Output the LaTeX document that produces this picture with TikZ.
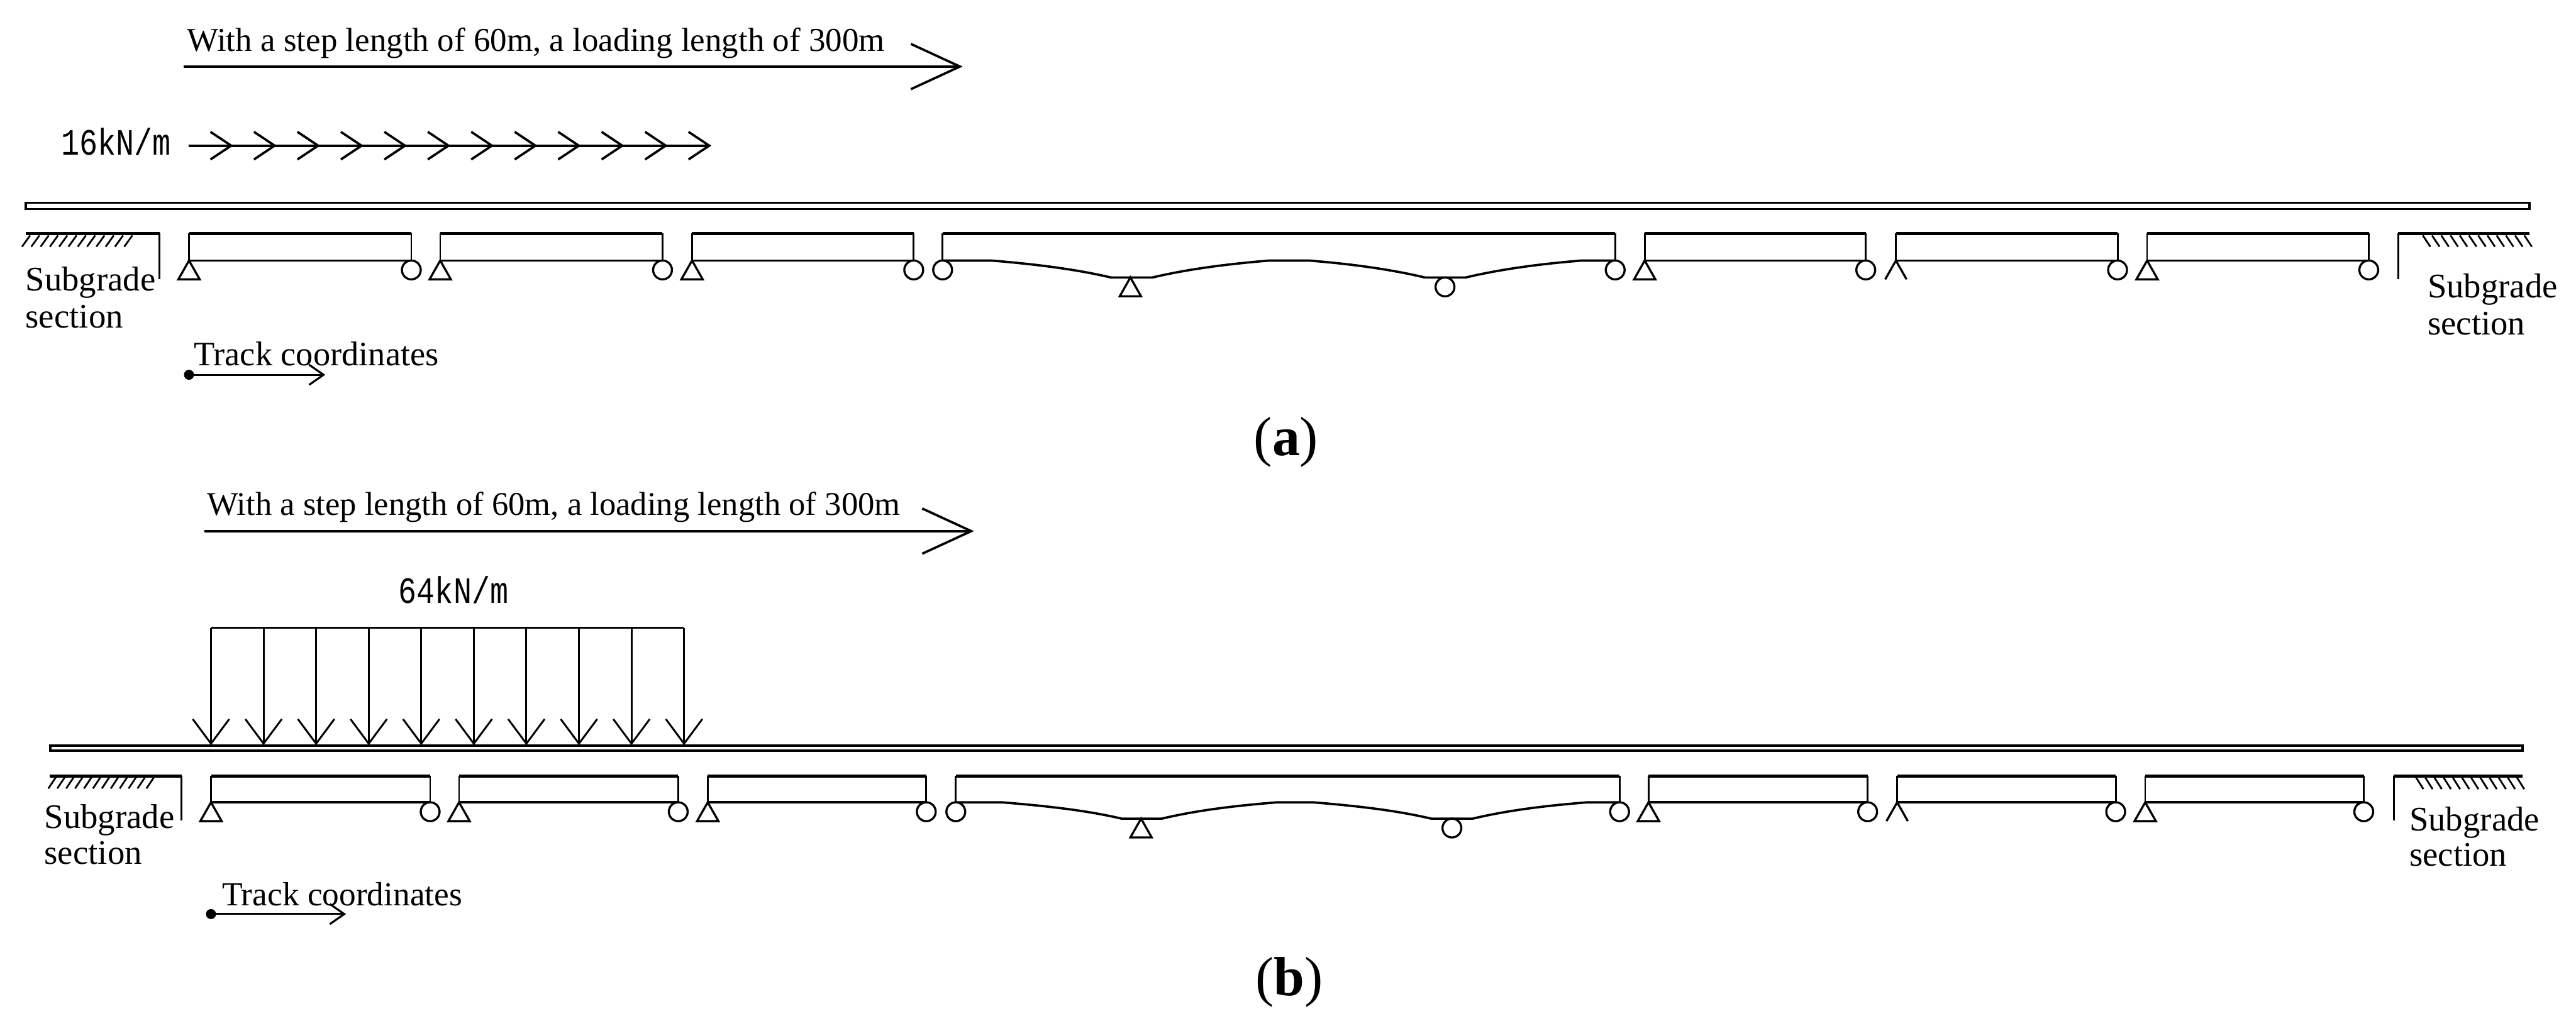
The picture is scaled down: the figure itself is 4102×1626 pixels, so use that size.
\documentclass[tikz,border=0pt]{standalone}
\usepackage{fontspec}
\setmainfont{Liberation Serif}
\setmonofont{Liberation Mono}
\usetikzlibrary{arrows.meta}
\newcommand{\textsizept}{15.1}
\newcommand{\tracksizept}{15.5}
\newcommand{\loadsizept}{13.8}

\tikzset{
  deckline/.style={line width=1.3pt},
  soffitline/.style={line width=1.05pt},
  webline/.style={line width=0.8pt},
  railline/.style={line width=1.05pt},
  hatchline/.style={line width=0.8pt},
  supportline/.style={line width=0.95pt},
  stepbase/.style={anchor=base west,inner sep=0pt,font=\fontsize{\textsizept}{17}\selectfont},
  tracktext/.style={anchor=base west,inner sep=0pt,font=\fontsize{\tracksizept}{18}\selectfont},
  subgradetext/.style={anchor=base west,inner sep=0pt,font=\fontsize{15.6}{18}\selectfont},
  loadtext/.style={anchor=base west,inner sep=0pt,yscale=1.22,transform shape,font=\ttfamily\fontsize{\loadsizept}{16}\selectfont},
  captiontext/.style={inner sep=0pt,font=\fontsize{25}{29}\selectfont},
  longarrow/.style={-{Straight Barb[length=0.78cm,width=0.72cm]},line width=1.05pt},
  chainarrow/.style={-{Straight Barb[length=0.33cm,width=0.44cm]},line width=1.05pt},
  dropbar/.style={-{Straight Barb[length=0.39cm,width=0.58cm]},line width=0.85pt},
  trackarrow/.style={-{Straight Barb[length=0.23cm,width=0.32cm]},line width=0.9pt},
}

% one simply supported span: left, right, deck y, soffit y
\newcommand{\spanbeam}[4]{
  \draw[deckline] (#1,#3) -- (#2,#3);
  \draw[webline] (#1,#3) -- (#1,#4);
  \draw[webline] (#2,#3) -- (#2,#4);
  \draw[soffitline] (#1,#4) -- (#2,#4);
}
\newcommand{\hingesupport}[2]{\draw[supportline,fill=white] (#1,#2) -- ++(-17,30) -- ++(34,0) -- cycle;}
\newcommand{\rollersupport}[2]{\draw[supportline,fill=white] (#1,#2+15) circle (15);}
\newcommand{\opensupport}[2]{\draw[supportline] (#1-17,#2+30) -- (#1,#2) -- (#1+17,#2+30);}

\begin{document}
\begin{tikzpicture}[x=0.01cm,y=-0.01cm]
\useasboundingbox (0,0) rectangle (4102,1626);

% panel a
\node[stepbase] (stepA) at (297,82) {With a step length of 60m, a loading length of 300m};
\coordinate (stepstartA) at (292,106);
\coordinate (stependA) at (1533,106);
\draw[longarrow] (stepstartA) -- (stependA);

\node[loadtext] (loadA) at (97,247) {16kN/m};
\coordinate (loadstartA) at (300,232);
\foreach \i in {0,...,11}{
  \coordinate (loadA\i) at (371.5+\i*69.2,232);
  \draw[chainarrow] (loadstartA) -- (loadA\i);
}

\draw[railline] (41,323) rectangle (4028,333);

\draw[deckline] (41,372) -- (254,372);
\draw[webline] (254,372) -- (254,445);
\foreach \i in {0,...,11}
  \draw[hatchline] (48+\i*14.8,375) -- ++(-13,18);
\node[subgradetext] (subgradeA1) at (40,463) {Subgrade};
\node[subgradetext] (subgradeA2) at (40,522) {section};

\spanbeam{301}{655}{372}{415}
\spanbeam{701}{1055}{372}{415}
\spanbeam{1102}{1455}{372}{415}
\hingesupport{301}{415}
\rollersupport{655}{415}
\hingesupport{701}{415}
\rollersupport{1055}{415}
\hingesupport{1102}{415}
\rollersupport{1455}{415}

\draw[deckline] (1501,372) -- (2572,372);
\draw[webline] (1501,372) -- (1501,415);
\draw[webline] (2572,372) -- (2572,415);
\draw[soffitline] (1501,415) -- (1578,415) .. controls +(62,5) and +(-59,-14) .. (1769,442) -- (1835,442)
  .. controls +(59,-14) and +(-62,5) .. (2022,415) -- (2084,415) .. controls +(62,5) and +(-59,-14) .. (2269,442)
  -- (2334,442) .. controls +(59,-14) and +(-62,5) .. (2519,415) -- (2572,415);
\rollersupport{1501}{415}
\hingesupport{1800}{442}
\rollersupport{2301}{442}
\rollersupport{2572}{415}

\spanbeam{2619}{2971}{372}{415}
\spanbeam{3019}{3372}{372}{415}
\spanbeam{3419}{3772}{372}{415}
\hingesupport{2619}{415}
\rollersupport{2971}{415}
\opensupport{3019}{415}
\rollersupport{3372}{415}
\hingesupport{3419}{415}
\rollersupport{3772}{415}

\draw[deckline] (3819,372) -- (4028,372);
\draw[webline] (3819,372) -- (3819,445);
\foreach \i in {0,...,11}
  \draw[hatchline] (3858+\i*14.7,375) -- ++(12,18);
\node[subgradetext] (subgradeA3) at (3865,474) {Subgrade};
\node[subgradetext] (subgradeA4) at (3865,533) {section};

\node[tracktext] (trackA) at (308,582) {Track coordinates};
\coordinate (trackstartA) at (301,597);
\coordinate (trackendA) at (518,597);
\fill (trackstartA) circle (8);
\draw[trackarrow] (trackstartA) -- (trackendA);

\node[captiontext] (captionA) at (2048,704) {(\textbf{a})};

% panel b
\node[stepbase,font=\fontsize{15}{17}\selectfont] (stepB) at (329,821) {With a step length of 60m, a loading length of 300m};
\coordinate (stepstartB) at (325,846);
\coordinate (stependB) at (1551,846);
\draw[longarrow] (stepstartB) -- (stependB);

\node[loadtext] (loadB) at (634,961) {64kN/m};
\draw[webline] (336,1000) -- (1089,1000);
\foreach \i in {0,...,9}{
  \coordinate (dropstartB\i) at (336+\i*83.7,1000);
  \coordinate (dropendB\i) at (336+\i*83.7,1187);
  \draw[dropbar] (dropstartB\i) -- (dropendB\i);
}

\draw[railline] (80,1188) rectangle (4017,1196);

\draw[deckline] (79,1236) -- (289,1236);
\draw[webline] (289,1236) -- (289,1307);
\foreach \i in {0,...,11}
  \draw[hatchline] (89+\i*14.2,1238) -- ++(-12,18);
\node[subgradetext] (subgradeB1) at (70,1319) {Subgrade};
\node[subgradetext] (subgradeB2) at (70,1376) {section};

\spanbeam{336}{685}{1236}{1278}
\spanbeam{731}{1080}{1236}{1278}
\spanbeam{1127}{1475}{1236}{1278}
\hingesupport{336}{1278}
\rollersupport{685}{1278}
\hingesupport{731}{1278}
\rollersupport{1080}{1278}
\hingesupport{1127}{1278}
\rollersupport{1475}{1278}

\draw[deckline] (1522,1236) -- (2579,1236);
\draw[webline] (1522,1236) -- (1522,1278);
\draw[webline] (2579,1236) -- (2579,1278);
\draw[soffitline] (1522,1278) -- (1595,1278) .. controls +(62,5) and +(-59,-14) .. (1786,1304) -- (1850,1304)
  .. controls +(59,-14) and +(-62,5) .. (2034,1278) -- (2090,1278) .. controls +(62,5) and +(-59,-14) .. (2279,1304)
  -- (2345,1304) .. controls +(59,-14) and +(-62,5) .. (2528,1278) -- (2579,1278);
\rollersupport{1522}{1278}
\hingesupport{1817}{1304}
\rollersupport{2312}{1304}
\rollersupport{2579}{1278}

\spanbeam{2625}{2974}{1236}{1278}
\spanbeam{3021}{3369}{1236}{1278}
\spanbeam{3416}{3764}{1236}{1278}
\hingesupport{2625}{1278}
\rollersupport{2974}{1278}
\opensupport{3021}{1278}
\rollersupport{3369}{1278}
\hingesupport{3416}{1278}
\rollersupport{3764}{1278}

\draw[deckline] (3812,1236) -- (4017,1236);
\draw[webline] (3812,1236) -- (3812,1307);
\foreach \i in {0,...,11}
  \draw[hatchline] (3847+\i*14.6,1238) -- ++(12,19);
\node[subgradetext] (subgradeB3) at (3836,1323) {Subgrade};
\node[subgradetext] (subgradeB4) at (3836,1379) {section};

\node[tracktext,font=\fontsize{15.2}{18}\selectfont] (trackB) at (353,1443) {Track coordinates};
\coordinate (trackstartB) at (336,1456);
\coordinate (trackendB) at (551,1456);
\fill (trackstartB) circle (8);
\draw[trackarrow] (trackstartB) -- (trackendB);

\node[captiontext] (captionB) at (2053,1565) {(\textbf{b})};

\end{tikzpicture}
\end{document}
